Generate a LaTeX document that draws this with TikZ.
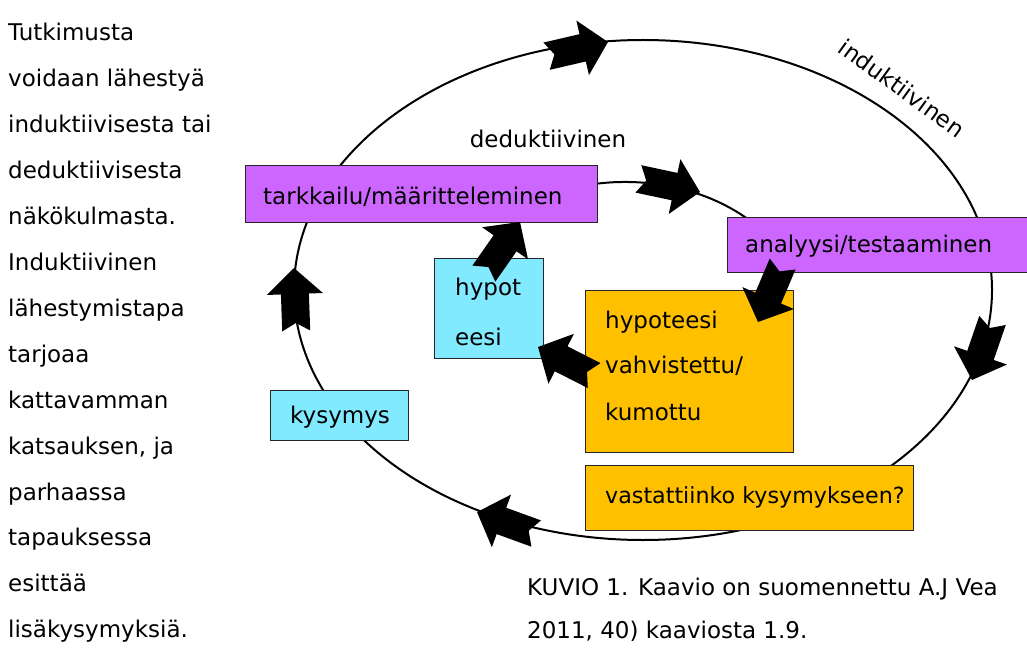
\documentclass[tikz,border=0pt]{standalone}
\usepackage{fontspec}
\setmainfont{DejaVu Sans}
\definecolor{boxpurple}{RGB}{204,102,255}
\definecolor{boxcyan}{RGB}{130,234,255}
\definecolor{boxorange}{RGB}{255,192,0}
\begin{document}
\begin{tikzpicture}[x=1pt,y=-1pt,
  every node/.style={font=\fontsize{23}{27}\selectfont, inner sep=0pt},
  txt/.style={anchor=base west},
  box/.style={draw=black!85, line width=1pt, anchor=north west},
  purplebox/.style={box, fill=boxpurple},
  cyanbox/.style={box, fill=boxcyan},
  orangebox/.style={box, fill=boxorange},
  cycleline/.style={line width=2pt},
  barrow/.pic={\fill[black] (0,0) -- (-26,-28) -- (-26,-14) -- (-63,-14) -- (-55,0) -- (-63,14) -- (-26,14) -- (-26,28) -- cycle;}
]
\useasboundingbox (0,0) rectangle (1027,668);
\clip (0,0) rectangle (1027,668);

% left column text
\node[txt] (l1) at (8,41) {Tutkimusta};
\node[txt] (l2) at (8,86.9) {voidaan lähestyä};
\node[txt] (l3) at (8,132.8) {induktiivisesta tai};
\node[txt] (l4) at (8,178.7) {deduktiivisesta};
\node[txt] (l5) at (8,224.6) {näkökulmasta.};
\node[txt] (l6) at (8,270.5) {Induktiivinen};
\node[txt] (l7) at (8,316.4) {lähestymistapa};
\node[txt] (l8) at (8,362.3) {tarjoaa};
\node[txt] (l9) at (8,408.2) {kattavamman};
\node[txt] (l10) at (8,454.1) {katsauksen, ja};
\node[txt] (l11) at (8,500) {parhaassa};
\node[txt] (l12) at (8,545.9) {tapauksessa};
\node[txt] (l13) at (8,591.8) {esittää};
\node[txt] (l14) at (8,637.7) {lisäkysymyksiä.};

% cycles
\draw[cycleline] (643,290) ellipse [x radius=349, y radius=250];
\draw[cycleline] (590.7,184.5) arc[start angle=-101, end angle=-43, x radius=180, y radius=138];

% boxes
\node[purplebox, minimum width=352pt, minimum height=57pt] (tark) at (245,165) {};
\node[txt] (tarkt) at (263,205) {tarkkailu/määritteleminen};
\node[purplebox, minimum width=300pt, minimum height=55pt] (anal) at (727,217) {};
\node[txt] (analt) at (745,253) {analyysi/testaaminen};
\node[cyanbox, minimum width=109pt, minimum height=100pt] (hyp) at (434,258) {};
\node[txt] (hypt1) at (455,295) {hypot};
\node[txt] (hypt2) at (455,345) {eesi};
\node[orangebox, minimum width=208pt, minimum height=162pt] (vahv) at (585,290) {};
\node[txt] (vahvt1) at (605,328) {hypoteesi};
\node[txt] (vahvt2) at (605,373) {vahvistettu/};
\node[txt] (vahvt3) at (605,420) {kumottu};
\node[cyanbox, minimum width=138pt, minimum height=50pt] (kys) at (270,390) {};
\node[txt] (kyst) at (290,423) {kysymys};
\node[orangebox, minimum width=328pt, minimum height=65pt] (vast) at (585,465) {};
\node[txt, font=\fontsize{22.2}{27}\selectfont] (vastt) at (605,503) {vastattiinko kysymykseen?};

% labels
\node[anchor=base] (ded) at (548,148) {deduktiivinen};
\node[rotate=-36] (ind) at (902,88) {induktiivinen};

% caption
\node[txt] (cap1) at (527,595) {KUVIO 1. Kaavio on suomennettu A.J Vea};
\node[txt] (cap2) at (527,638) {2011, 40) kaaviosta 1.9.};

% block arrows
\pic[rotate=13] at (608,42) {barrow};
\pic[rotate=-12] at (700,192) {barrow};
\pic[rotate=-113] at (758,322) {barrow};
\pic[rotate=153] at (538,347) {barrow};
\pic[rotate=55] at (520,222) {barrow};
\pic[rotate=92] at (294,268) {barrow};
\pic[rotate=-109] at (972,380) {barrow};
\pic[rotate=160] at (477,512) {barrow};
\end{tikzpicture}
\end{document}
